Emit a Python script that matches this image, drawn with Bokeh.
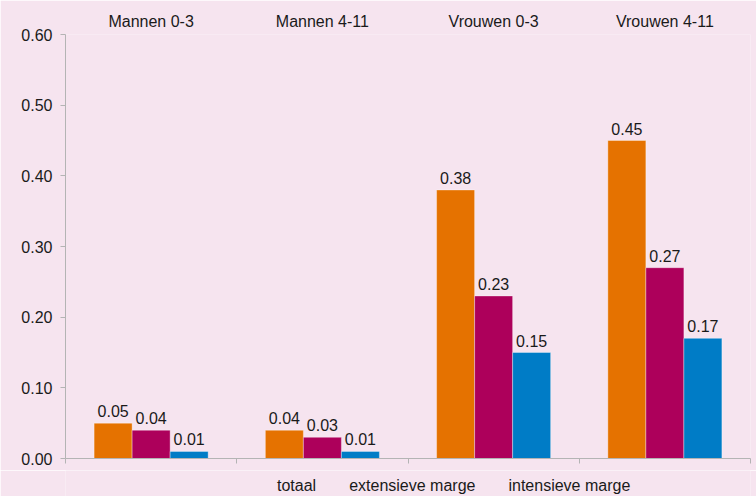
from bokeh.plotting import figure
from bokeh.layouts import column
from bokeh.models import (Range1d, LinearAxis, FixedTicker, ColumnDataSource,
                          Legend, LegendItem, NumeralTickFormatter)
from bokeh.transform import dodge
from bokeh.core.properties import value
from bokeh.embed import file_html
from bokeh.resources import INLINE

categories = ["Mannen 0-3", "Mannen 4-11", "Vrouwen 0-3", "Vrouwen 4-11"]
series_names = ["totaal", "extensieve marge", "intensieve marge"]
totaal = [0.05, 0.04, 0.38, 0.45]
extensieve = [0.04, 0.03, 0.23, 0.27]
intensieve = [0.01, 0.01, 0.15, 0.17]
y_ticks = [0.0, 0.1, 0.2, 0.3, 0.4, 0.5, 0.6]

colors = ["#E57200", "#AD005B", "#007CC6"]
BG = "#F6E4EF"
FONT = "Liberation Sans"
TXT = "#1a1a1a"
AXC = "#B4B4B4"

n = len(categories)
centers = [i + 0.5 for i in range(n)]
bounds = list(range(n + 1))

src = ColumnDataSource(dict(
    x=centers,
    totaal=totaal, extensieve=extensieve, intensieve=intensieve,
    totaal_l=[f"{v:.2f}" for v in totaal],
    extensieve_l=[f"{v:.2f}" for v in extensieve],
    intensieve_l=[f"{v:.2f}" for v in intensieve],
))

p = figure(frame_width=685, frame_height=424, x_range=Range1d(0, n),
           y_range=Range1d(0, 0.6),
           output_backend="svg", toolbar_location=None,
           min_border_left=65, min_border_right=6, min_border_top=34, min_border_bottom=12)
p.background_fill_color = BG
p.border_fill_color = BG
p.outline_line_color = None
p.xgrid.grid_line_color = None
p.ygrid.grid_line_color = None

# bottom axis with ticks at category boundaries, labels hidden
ba = p.xaxis[0]
ba.ticker = FixedTicker(ticks=bounds)
ba.axis_line_color = AXC
ba.major_tick_line_color = AXC
ba.major_tick_out = 5
ba.major_tick_in = 0
ba.minor_tick_line_color = None
ba.major_label_standoff = 0
ba.major_label_text_font_size = "2px"
ba.major_label_text_alpha = 0

# top axis: category labels only
ta = LinearAxis(ticker=FixedTicker(ticks=centers),
                major_label_overrides={c: lab for c, lab in zip(centers, categories)})
ta.axis_line_color = None
ta.major_tick_line_color = None
ta.minor_tick_line_color = None
ta.major_tick_out = 0
ta.major_label_standoff = 5
ta.major_label_text_font = FONT
ta.major_label_text_font_size = "16px"
ta.major_label_text_color = TXT
p.add_layout(ta, "above")

# y axis
ya = p.yaxis[0]
ya.ticker = FixedTicker(ticks=y_ticks)
ya.formatter = NumeralTickFormatter(format="0.00")
ya.axis_line_color = AXC
ya.major_tick_line_color = AXC
ya.major_tick_out = 5
ya.major_tick_in = 0
ya.minor_tick_line_color = None
ya.major_label_standoff = 8
ya.major_label_text_font = FONT
ya.major_label_text_font_size = "16px"
ya.major_label_text_color = TXT

keys = ["totaal", "extensieve", "intensieve"]
offsets = [-0.222, 0.0, 0.222]
for k, off, c in zip(keys, offsets, colors):
    p.vbar(x=dodge("x", off), top=k, width=0.222, bottom=0,
           source=src, fill_color=c, line_color="white", line_alpha=0.35, line_width=1)
    p.text(x=dodge("x", off), y=k, text=k + "_l", source=src,
           text_align="center", text_baseline="bottom", y_offset=-6,
           text_font=value(FONT), text_font_size="16px", text_color=TXT)

# legend strip below the chart
p2 = figure(width=756, height=26, x_range=Range1d(0, 1), y_range=Range1d(0, 1),
            x_axis_location=None, y_axis_location=None,
            output_backend="svg", toolbar_location=None,
            min_border_left=0, min_border_right=0, min_border_top=0, min_border_bottom=0)
p2.background_fill_color = BG
p2.border_fill_color = BG
p2.outline_line_color = None
for g in p2.grid:
    g.visible = False

items = []
for c, name in zip(colors, series_names):
    r = p2.vbar(x=[], top=[], width=0.1, fill_color=c, line_color="white",
                line_alpha=0.35, line_width=1)
    items.append(LegendItem(label=name, renderers=[r]))

legend = Legend(items=items, orientation="horizontal", location=(199, 1),
                background_fill_alpha=0, border_line_color=None,
                glyph_width=10, glyph_height=10, label_standoff=3, spacing=20,
                label_text_font=FONT, label_text_font_size="16px", label_text_color=TXT,
                margin=0, padding=2)
p2.add_layout(legend, "center")

layout = column(p, p2, spacing=0)
open("out.html", "w").write(file_html(layout, INLINE))
